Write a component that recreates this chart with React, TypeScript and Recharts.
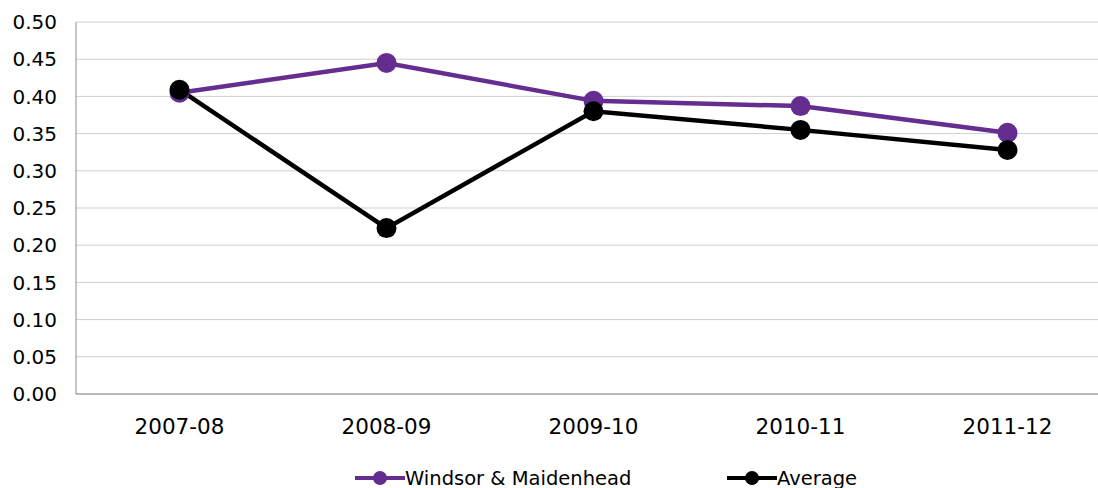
import React from 'react';
import { LineChart, Line, XAxis, YAxis, CartesianGrid, Legend } from 'recharts';

const years = ['2007-08', '2008-09', '2009-10', '2010-11', '2011-12'];
const windsor = [0.405, 0.445, 0.394, 0.387, 0.351];
const average = [0.409, 0.223, 0.380, 0.355, 0.328];
const yTicks = [0, 0.05, 0.1, 0.15, 0.2, 0.25, 0.3, 0.35, 0.4, 0.45, 0.5];

const PURPLE = '#652d90';
const FONT = '"DejaVu Sans", Verdana, sans-serif';

const data = years.map((year, i) => ({
  year,
  windsor: windsor[i],
  average: average[i],
}));

function LegendItem({ color, label, left }: { color: string; label: string; left: number }) {
  return (
    <div style={{ position: 'absolute', left, top: 2, display: 'flex', alignItems: 'center', height: 24 }}>
      <svg width={50} height={24}>
        <line x1={0} y1={12} x2={50} y2={12} stroke={color} strokeWidth={4} />
        <circle cx={25} cy={12} r={7} fill={color} />
      </svg>
      <span style={{ fontSize: 19.5, fontFamily: FONT, color: '#000', whiteSpace: 'nowrap' }}>{label}</span>
    </div>
  );
}

function ChartLegend() {
  return (
    <div style={{ position: 'relative', width: 1098, height: 24 }}>
      <LegendItem color={PURPLE} label="Windsor & Maidenhead" left={355} />
      <LegendItem color="#000" label="Average" left={727} />
    </div>
  );
}

export default function App() {
  return (
    <div style={{ position: 'absolute', left: 0, top: 0, width: 1098, height: 488, overflow: 'hidden', background: '#fff' }}>
      <LineChart width={1111} height={488} data={data} margin={{ top: 22, right: 0, bottom: 0, left: 0 }}>
        <CartesianGrid vertical={false} stroke="#cfcfcf" strokeWidth={1} />
        <XAxis
          dataKey="year"
          padding={{ left: 103.5, right: 103.5 }}
          axisLine={{ stroke: '#8c8c8c' }}
          tickLine={false}
          tickSize={0}
          tickMargin={25}
          height={70}
          tick={{ fontSize: 21.5, fontFamily: FONT, fill: '#000' }}
        />
        <YAxis
          width={76}
          domain={[0, 0.5]}
          ticks={yTicks}
          tickFormatter={(v: number) => v.toFixed(2)}
          axisLine={{ stroke: '#8c8c8c' }}
          tickLine={false}
          tickSize={0}
          tickMargin={19}
          tick={{ fontSize: 20, fontFamily: FONT, fill: '#000' }}
        />
        <Legend verticalAlign="bottom" height={24} content={() => <ChartLegend />} />
        <Line
          dataKey="windsor"
          name="Windsor & Maidenhead"
          stroke={PURPLE}
          strokeWidth={4.5}
          dot={{ r: 10, fill: PURPLE, stroke: PURPLE, strokeWidth: 0 }}
          isAnimationActive={false}
        />
        <Line
          dataKey="average"
          name="Average"
          stroke="#000"
          strokeWidth={4.5}
          dot={{ r: 10, fill: '#000', stroke: '#000', strokeWidth: 0 }}
          isAnimationActive={false}
        />
      </LineChart>
    </div>
  );
}
